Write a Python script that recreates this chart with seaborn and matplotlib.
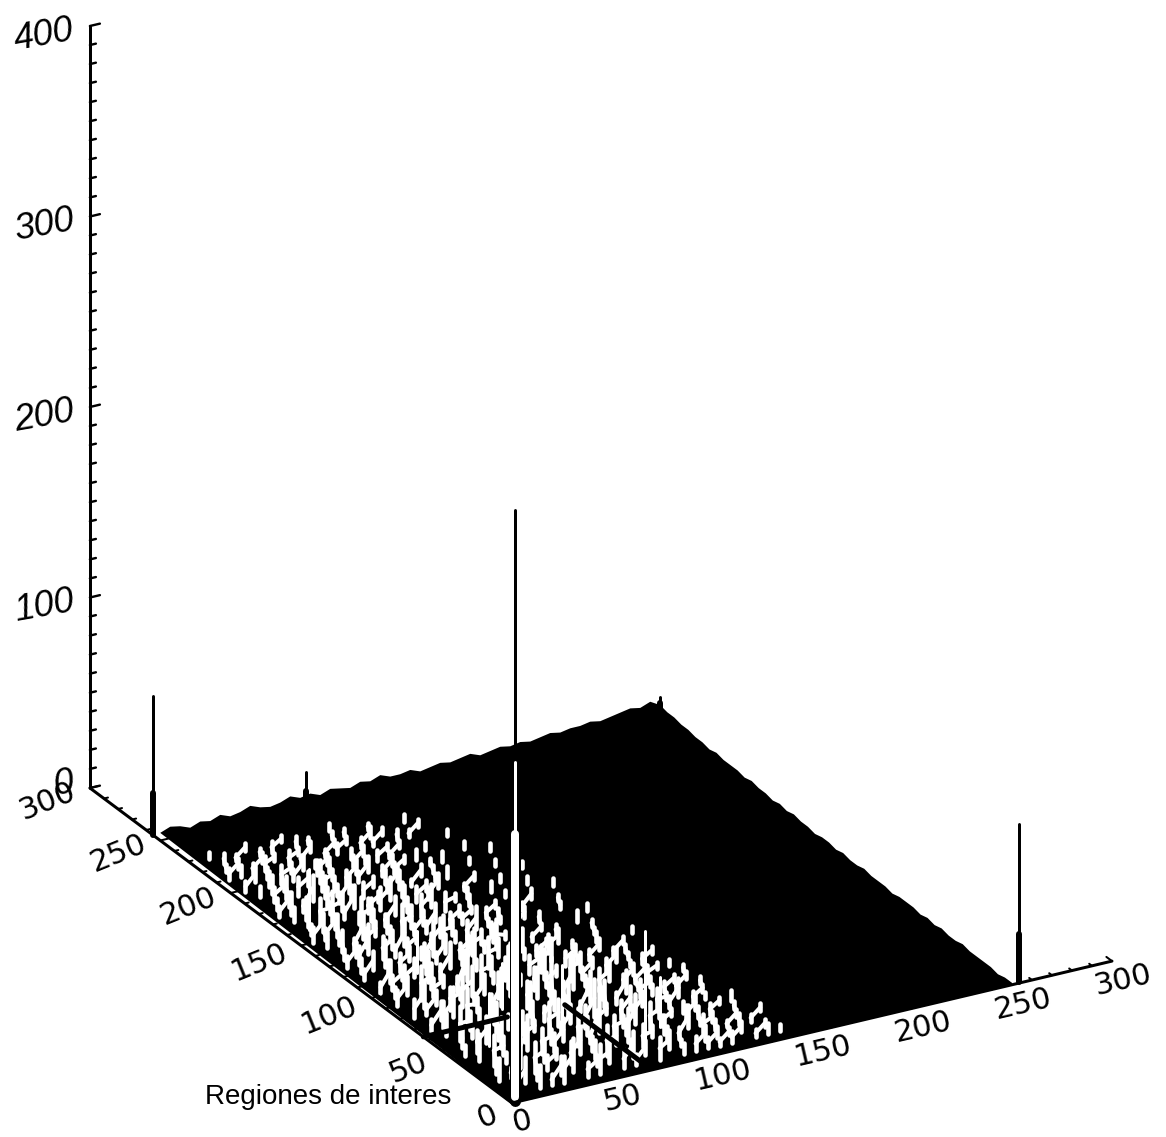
import numpy as np
import pandas as pd
import matplotlib
matplotlib.use("Agg")
import matplotlib.pyplot as plt
import seaborn as sns

# tick values and labels
x_ticks = [0, 50, 100, 150, 200, 250, 300]
y_ticks = [0, 50, 100, 150, 200, 250, 300]
z_ticks = [0, 100, 200, 300, 400]
y_title = "Regiones de interes"

# tall spikes: position, top, height of the thick foot
spike_x = [2, 0, 254, 73, 250]
spike_y = [1, 255, 1, 250, 250]
spike_z = [310, 73, 83, 18, 13]
spike_foot = [0, 22, 25, 8, 10]

# pale streaks that stand out of the noisy part
bright_x = [80, 11, 44, 60, 95, 30, 20]
bright_y = [19, 160, 70, 50, 30, 110, 45]
bright_z = [60, 32, 24, 30, 26, 22, 28]

# the main spike is pale up to here
main_pale_z = 140
main_thin_z = 178

# dark ridges crossing the noise: x from, y from, x to, y to
ridge_x0 = [0, 70]
ridge_y0 = [63, 6]
ridge_x1 = [42, 70]
ridge_y1 = [63, 62]

# height of the rim along the far edge, x = 0 .. 250 every 5
far_edge_z = [4, 6, 5, 3, 5, 4, 6, 4, 5, 7, 5, 4, 5, 7, 5, 6, 4, 6, 5, 4, 6, 5, 7, 5, 5,
              6, 4, 5, 6, 5, 6, 7, 5, 6, 7, 6, 7, 6, 7, 8, 7, 8, 8, 9, 8, 9, 10, 11, 10, 12, 9]
# height of the rim along the right edge, y = 0 .. 250 every 5
right_edge_z = [1, 1, 0, 1, 1, 1, 1, 2, 1, 1, 2, 1, 2, 1, 2, 2, 2, 1, 2, 2, 2, 3, 2, 2, 3,
                2, 3, 3, 2, 3, 3, 4, 3, 4, 3, 4, 4, 5, 4, 5, 5, 5, 6, 5, 6, 6, 7, 7, 8, 8, 9]

# heights in the noisy part, rows y = 6, 12 .. 228, columns x = 0, 6 .. 138
noise_z = [
    [0, 5, 0, 6, 3, 7, 0, 4, 8, 0, 5, 3, 0, 6, 0, 3, 4, 3, 2, 3, 0, 2, 3, 2],
    [0, 0, 7, 4, 0, 5, 9, 0, 3, 6, 0, 7, 4, 0, 5, 2, 0, 4, 3, 2, 3, 0, 2, 0],
    [0, 6, 3, 0, 8, 4, 0, 6, 0, 5, 8, 0, 3, 6, 0, 4, 3, 0, 5, 3, 2, 3, 2, 0],
    [0, 4, 0, 9, 0, 6, 3, 0, 7, 4, 0, 5, 9, 0, 3, 5, 0, 6, 2, 3, 0, 2, 0, 2],
    [0, 0, 8, 3, 5, 0, 7, 5, 0, 10, 3, 0, 6, 4, 0, 7, 3, 0, 4, 3, 3, 0, 2, 0],
    [0, 7, 0, 5, 0, 9, 0, 4, 6, 0, 5, 12, 0, 3, 8, 0, 5, 2, 3, 4, 0, 2, 3, 0],
    [0, 3, 6, 0, 8, 3, 5, 0, 9, 3, 0, 6, 4, 0, 5, 3, 0, 6, 3, 0, 3, 2, 0, 0],
    [0, 5, 0, 7, 4, 0, 6, 3, 0, 7, 5, 0, 10, 3, 0, 6, 4, 0, 2, 5, 0, 2, 0, 0],
    [0, 0, 9, 3, 0, 8, 4, 0, 6, 4, 0, 9, 3, 0, 7, 3, 0, 5, 3, 3, 2, 0, 2, 0],
    [0, 6, 0, 5, 0, 6, 0, 0, 9, 0, 5, 3, 0, 8, 3, 0, 6, 2, 3, 0, 2, 2, 0, 0],
    [0, 3, 7, 0, 9, 3, 6, 0, 4, 7, 0, 12, 5, 0, 4, 6, 0, 3, 2, 4, 0, 0, 2, 0],
    [0, 0, 5, 8, 0, 4, 0, 10, 3, 0, 8, 3, 0, 9, 3, 0, 5, 0, 3, 2, 2, 2, 0, 0],
    [0, 5, 3, 0, 6, 9, 3, 0, 7, 5, 0, 6, 4, 0, 7, 3, 0, 4, 0, 2, 3, 0, 0, 0],
    [0, 0, 7, 4, 0, 3, 8, 5, 0, 11, 3, 0, 8, 3, 0, 5, 3, 0, 4, 2, 0, 2, 0, 0],
    [0, 4, 0, 9, 5, 0, 4, 0, 8, 3, 6, 0, 5, 7, 0, 4, 2, 3, 0, 2, 2, 0, 0, 0],
    [0, 3, 5, 0, 7, 3, 0, 12, 0, 5, 0, 9, 0, 3, 6, 0, 3, 0, 3, 0, 2, 0, 0, 0],
    [0, 3, 4, 6, 0, 8, 4, 0, 6, 3, 8, 0, 4, 3, 3, 5, 0, 2, 0, 3, 0, 0, 2, 0],
    [0, 0, 6, 3, 5, 5, 0, 7, 4, 9, 0, 5, 3, 6, 0, 2, 4, 0, 0, 2, 0, 0, 0, 0],
    [0, 3, 0, 4, 5, 0, 6, 3, 0, 4, 6, 3, 8, 0, 3, 2, 0, 3, 0, 0, 2, 0, 0, 0],
    [0, 4, 5, 7, 0, 4, 3, 9, 5, 0, 3, 4, 4, 2, 5, 0, 2, 0, 0, 3, 0, 0, 0, 0],
    [0, 3, 5, 0, 6, 3, 4, 0, 4, 8, 3, 5, 0, 3, 0, 2, 0, 3, 0, 0, 0, 2, 0, 0],
    [0, 3, 4, 8, 0, 5, 7, 3, 0, 5, 4, 0, 6, 2, 2, 0, 3, 0, 0, 2, 0, 0, 0, 0],
    [0, 0, 6, 3, 5, 0, 4, 9, 3, 3, 0, 4, 3, 0, 3, 2, 0, 2, 0, 0, 2, 0, 0, 0],
    [0, 4, 3, 0, 7, 4, 5, 0, 6, 4, 5, 0, 3, 2, 0, 2, 0, 0, 3, 0, 0, 0, 0, 0],
    [0, 4, 3, 6, 0, 9, 5, 3, 0, 4, 6, 0, 5, 0, 3, 0, 0, 2, 0, 0, 0, 2, 0, 0],
    [0, 3, 5, 4, 0, 3, 6, 0, 5, 4, 0, 6, 0, 2, 3, 0, 3, 0, 0, 2, 0, 0, 0, 0],
    [0, 0, 5, 7, 8, 3, 0, 4, 6, 0, 5, 4, 3, 0, 0, 2, 0, 0, 2, 0, 0, 0, 0, 0],
    [0, 4, 6, 0, 3, 5, 6, 0, 3, 6, 4, 0, 3, 4, 0, 0, 2, 0, 0, 0, 2, 0, 0, 0],
    [0, 3, 6, 3, 0, 5, 3, 4, 4, 0, 3, 5, 2, 0, 2, 3, 0, 0, 0, 2, 0, 0, 0, 0],
    [0, 3, 4, 0, 7, 6, 3, 5, 0, 3, 4, 4, 0, 3, 2, 0, 0, 2, 0, 0, 0, 0, 0, 0],
    [0, 0, 4, 6, 5, 0, 5, 3, 4, 3, 0, 3, 3, 0, 0, 2, 3, 0, 0, 0, 2, 0, 0, 0],
    [0, 3, 5, 3, 0, 4, 6, 3, 0, 4, 4, 0, 3, 2, 3, 0, 0, 0, 2, 0, 0, 0, 0, 0],
    [0, 3, 0, 4, 5, 3, 0, 4, 4, 0, 3, 2, 3, 2, 0, 0, 2, 0, 0, 0, 0, 0, 0, 0],
    [0, 0, 4, 3, 0, 3, 4, 2, 3, 0, 3, 3, 0, 2, 2, 0, 0, 0, 2, 0, 0, 0, 0, 0],
    [0, 3, 3, 3, 4, 0, 4, 2, 0, 2, 3, 0, 3, 2, 0, 3, 2, 0, 0, 0, 0, 0, 0, 0],
    [0, 2, 3, 0, 3, 2, 0, 2, 3, 0, 2, 2, 0, 3, 2, 0, 0, 2, 0, 0, 0, 0, 0, 0],
    [0, 0, 3, 2, 0, 2, 3, 0, 3, 2, 0, 2, 2, 0, 2, 0, 0, 2, 0, 0, 0, 0, 0, 0],
    [0, 2, 0, 0, 2, 0, 0, 2, 0, 0, 0, 2, 0, 0, 0, 0, 0, 0, 0, 0, 0, 0, 0, 0],
]


def project(x, y, z):
    """Parallel projection of the plot box onto the page (pixels)."""
    x, y, z = np.asarray(x, float), np.asarray(y, float), np.asarray(z, float)
    return 512 + 2.0 * x - 1.407 * y, 1103 - 0.473 * x - 1.05 * y - 1.905 * z


def segments(x0, y0, z0, x1, y1, z1):
    """Long table of two point lines, one unit per line."""
    n = len(x0)
    sx0, sy0 = project(x0, y0, z0)
    sx1, sy1 = project(x1, y1, z1)
    return pd.DataFrame({
        "sx": np.concatenate([sx0, sx1]),
        "sy": np.concatenate([sy0, sy1]),
        "line": np.tile(np.arange(n), 2),
    })


def draw(ax, table, color, width, order):
    sns.lineplot(data=table, x="sx", y="sy", units="line", estimator=None, sort=False,
                 color=color, linewidth=width * 0.72, legend=False, ax=ax, zorder=order)


def same(values, n):
    return np.full(n, values, dtype=float)


def mesh_links(noise):
    """Steep wires between raised neighbours, they read as vertical smears."""
    x0, y0, z0, x1, y1, z1 = [], [], [], [], [], []
    n_rows, n_cols = noise.shape
    for r in range(n_rows - 1):
        for c in range(n_cols - 1):
            if noise[r, c] > 0 and noise[r + 1, c + 1] > 0:
                x0.append(c * 6.0 + 3.0 * (r % 2))
                y0.append(6.0 + r * 6.0)
                z0.append(noise[r, c])
                x1.append((c + 1) * 6.0 + 3.0 * ((r + 1) % 2))
                y1.append(6.0 + (r + 1) * 6.0)
                z1.append(noise[r + 1, c + 1])
    return x0, y0, z0, x1, y1, z1


sns.set_theme(style="white")
plt.rcParams["font.family"] = ["DejaVu Sans"]
plt.rcParams["text.color"] = "black"

fig = plt.figure(figsize=(11.66, 11.37), dpi=100)
ax = fig.add_axes([0, 0, 1, 1])

# black body of the surface, its far rim is jagged
edge_steps = np.arange(0, 255, 5)
rim_x = np.concatenate([[0, 250], same(250, 51), edge_steps[::-1]])
rim_y = np.concatenate([[0, 0], edge_steps, same(250, 51)])
rim_z = np.concatenate([[0, 0], right_edge_z, far_edge_z[::-1]])
body_x, body_y = project(rim_x, rim_y, rim_z)
ax.fill(body_x, body_y, color="black", lw=0, zorder=1)

# noise: pale smears between raised points, plus a streak on each of them
noise = np.array(noise_z, dtype=float)
draw(ax, segments(*mesh_links(noise)), "white", 4.0, 2)
rows, cols = np.nonzero(noise)
grid_x = cols * 6.0 + 3.0 * (rows % 2)
grid_y = 6.0 + rows * 6.0
draw(ax, segments(grid_x, grid_y, same(0, len(rows)),
                  grid_x, grid_y, noise[rows, cols] * 2.0), "white", 4.6, 2)

# pale streaks
n = len(bright_x)
draw(ax, segments(bright_x, bright_y, same(0, n), bright_x, bright_y, bright_z), "white", 3.0, 3)

# dark ridges
draw(ax, segments(ridge_x0, ridge_y0, same(0, 2), ridge_x1, ridge_y1, same(0, 2)), "black", 5, 4)

# spikes
n = len(spike_x)
draw(ax, segments(spike_x, spike_y, same(0, n), spike_x, spike_y, spike_z), "black", 3, 5)
draw(ax, segments(spike_x, spike_y, same(0, n), spike_x, spike_y, spike_foot), "black", 6, 5)
main_x, main_y = spike_x[:1], spike_y[:1]
draw(ax, segments(main_x, main_y, [0], main_x, main_y, [main_pale_z]), "black", 11, 5)
draw(ax, segments(main_x, main_y, [2], main_x, main_y, [main_pale_z]), "white", 8, 6)
draw(ax, segments(main_x, main_y, [main_pale_z], main_x, main_y, [main_thin_z]), "white", 3, 6)

# axis lines
axis_x0, axis_y0, axis_z0 = [0, 0, 0], [0, 0, 300], [0, 0, 0]
axis_x1, axis_y1, axis_z1 = [300, 0, 0], [0, 300, 300], [0, 0, 400]
draw(ax, segments(axis_x0, axis_y0, axis_z0, axis_x1, axis_y1, axis_z1), "black", 3, 7)

# ticks: x ticks lean along y, y and z ticks along x
minor = np.arange(0, 301, 10)
major_len = np.where(minor % 50 == 0, 4.0, 2.0)
n = len(minor)
draw(ax, segments(minor, same(0, n), same(0, n), minor, major_len, same(0, n)), "black", 2, 7)
draw(ax, segments(same(0, n), minor, same(0, n), major_len, minor, same(0, n)), "black", 2, 7)
z_minor = np.arange(0, 401, 10)
z_len = np.where(z_minor % 100 == 0, 5.0, 3.0)
n = len(z_minor)
draw(ax, segments(same(0, n), same(300, n), z_minor, z_len, same(300, n), z_minor), "black", 2.4, 7)

# tick labels
for t in x_ticks:
    sx, sy = project(t, 0, 0)
    ax.text(sx + 11, sy + 19, str(t), rotation=13, ha="center", va="center", fontsize=22)
for t in y_ticks:
    sx, sy = project(0, t, 0)
    dy = 2 if t >= 200 else (6 if t >= 100 else 10)
    ax.text(sx - 15, sy + dy, str(t), rotation=22, rotation_mode="anchor",
            ha="right", va="center", fontsize=22)
for t in z_ticks:
    sx, sy = project(0, 300, t)
    ax.text(sx - 16, sy + (4 if t else -6), str(t), rotation=10, style="italic",
            rotation_mode="anchor", ha="right", va="center", fontsize=26,
            family="Liberation Sans")

ax.text(328, 1097, y_title, ha="center", va="center", fontsize=20, family="Liberation Sans")

ax.set_xlim(0, 1166)
ax.set_ylim(1137, 0)
ax.set_axis_off()
fig.savefig("out.png", dpi=100, facecolor="white")
